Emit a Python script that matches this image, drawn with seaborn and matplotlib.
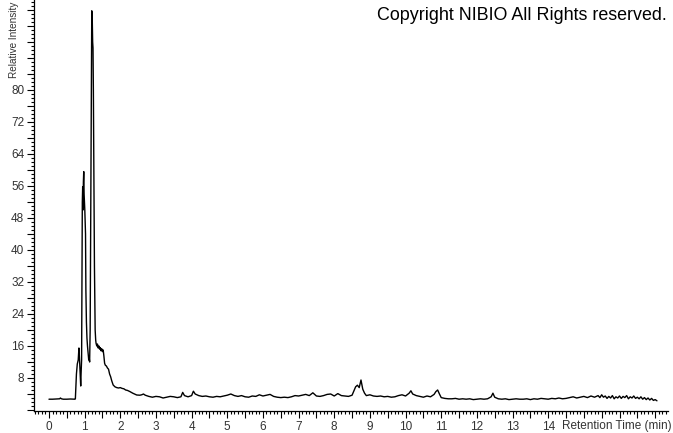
import matplotlib
matplotlib.use("Agg")
import matplotlib.pyplot as plt
import seaborn as sns
import pandas as pd
from matplotlib.ticker import MultipleLocator, FuncFormatter

# Retention time (min) and relative intensity, by segment
time_front = [0.0, 0.1, 0.2, 0.3, 0.32, 0.35, 0.4, 0.5, 0.6, 0.7, 0.73]
int_front = [2.7, 2.7, 2.75, 2.8, 3.0, 2.8, 2.7, 2.7, 2.75, 2.7, 2.7]

time_peaks = [0.74, 0.757, 0.77, 0.794, 0.82, 0.84, 0.85, 0.87, 0.89, 0.90, 0.915,
              0.925, 0.935, 0.945, 0.955, 0.965, 0.975, 0.985, 0.995, 1.005, 1.015,
              1.025, 1.035, 1.05, 1.065, 1.08, 1.10, 1.115, 1.125, 1.14, 1.155,
              1.17, 1.18, 1.19, 1.20, 1.215, 1.225, 1.235, 1.245, 1.255, 1.265,
              1.275, 1.285, 1.295]
int_peaks = [2.8, 6.0, 9.0, 11.5, 12.5, 15.5, 14.0, 10.0, 6.0, 9.0, 12.5,
             30.0, 52.0, 55.8, 50.0, 57.0, 59.6, 54.0, 52.0, 50.0, 47.0,
             44.0, 30.0, 22.0, 18.0, 16.0, 14.0, 12.5, 13.3, 12.0, 20.0,
             45.0, 64.0, 80.0, 99.8, 97.0, 92.0, 90.5, 80.0, 64.0, 50.0,
             36.0, 28.0, 20.0]

time_tail = [1.31, 1.32, 1.34, 1.36, 1.38, 1.40, 1.42, 1.44, 1.46, 1.48, 1.50,
             1.52, 1.54, 1.56, 1.58, 1.61, 1.64, 1.67, 1.70, 1.73, 1.76, 1.80,
             1.85, 1.90, 1.95, 2.0, 2.05, 2.1, 2.15, 2.2, 2.27, 2.35, 2.46, 2.55,
             2.6, 2.65, 2.7, 2.8, 2.9, 3.0, 3.1, 3.2, 3.3, 3.4, 3.5, 3.6, 3.7,
             3.75, 3.8, 3.9, 4.0, 4.05, 4.1]
int_tail = [17.5, 16.7, 16.0, 16.5, 15.5, 16.0, 15.2, 15.6, 14.8, 15.3, 14.6,
            15.0, 13.5, 11.7, 11.2, 11.0, 10.5, 10.2, 9.0, 8.3, 7.3, 6.25,
            5.8, 5.6, 5.5, 5.6, 5.4, 5.3, 5.0, 4.9, 4.6, 4.2, 3.75, 3.7,
            3.8, 4.0, 3.7, 3.4, 3.2, 3.4, 3.3, 3.0, 3.2, 3.4, 3.3, 3.1, 3.3,
            4.4, 3.6, 3.3, 3.6, 4.7, 4.0]

time_base = [
    4.2, 4.3, 4.4, 4.5, 4.6, 4.7, 4.8, 4.9, 5.0, 5.1, 5.2, 5.3, 5.4, 5.5, 5.6,
    5.7, 5.8, 5.9, 6.0, 6.1, 6.2, 6.3, 6.4, 6.5, 6.6, 6.7, 6.8, 6.9, 7.0, 7.1,
    7.2, 7.3, 7.4, 7.5, 7.6, 7.7, 7.8, 7.9, 8.0, 8.1, 8.2, 8.3, 8.4, 8.5, 8.6,
    8.65, 8.7, 8.75, 8.8, 8.85, 8.9, 9.0, 9.1, 9.2, 9.3, 9.4, 9.5, 9.6, 9.7, 9.8,
    9.9, 10.0, 10.1, 10.15, 10.2, 10.3, 10.4, 10.5, 10.6, 10.7, 10.8, 10.85, 10.9,
    10.95, 11.0, 11.1, 11.2, 11.3, 11.4, 11.5, 11.6, 11.7, 11.8, 11.9, 12.0, 12.1,
    12.2, 12.3, 12.4, 12.45, 12.5, 12.6, 12.7, 12.8, 12.9, 13.0, 13.1, 13.2, 13.3,
    13.4, 13.5, 13.6, 13.7, 13.8, 13.9, 14.0, 14.1, 14.2, 14.3, 14.4, 14.5, 14.6,
    14.7, 14.8, 14.9, 15.0, 15.1, 15.2, 15.3, 15.4, 15.45, 15.5, 15.55, 15.6, 15.65,
    15.7, 15.75, 15.8, 15.85, 15.9, 15.95, 16.0, 16.05, 16.1, 16.15, 16.2, 16.25,
    16.3, 16.35, 16.4, 16.45, 16.5, 16.55, 16.6, 16.65, 16.7, 16.75, 16.8, 16.85,
    16.9, 16.95, 17.0, 17.05,
]
int_base = [
    3.6, 3.4, 3.5, 3.3, 3.2, 3.4, 3.3, 3.5, 3.7, 4.0, 3.6, 3.4, 3.6, 3.3, 3.2,
    3.5, 3.4, 3.8, 3.5, 3.7, 3.9, 3.4, 3.2, 3.1, 3.2, 3.1, 3.3, 3.6, 3.5, 3.7,
    3.9, 3.6, 4.3, 3.5, 3.4, 3.6, 3.9, 4.0, 3.5, 4.1, 3.6, 3.5, 3.4, 3.7, 5.8,
    6.2, 5.6, 7.5, 5.2, 4.2, 3.6, 3.8, 3.5, 3.4, 3.5, 3.3, 3.4, 3.2, 3.3, 3.6,
    3.8, 3.5, 4.2, 4.8, 4.0, 3.6, 3.4, 3.2, 3.5, 3.3, 3.9, 4.6, 5.0,
    4.0, 3.1, 2.9, 2.8, 2.8, 2.9, 2.7, 2.8, 2.7, 2.8, 2.6, 2.7, 2.8,
    2.7, 2.8, 3.3, 4.2, 3.2, 2.8, 2.7, 2.8, 2.6, 2.7, 2.8, 2.7, 2.7,
    2.8, 2.6, 2.8, 2.7, 2.9, 2.8, 2.7, 2.9, 2.8, 3.0, 2.8, 2.9, 3.1,
    3.3, 3.0, 3.2, 3.4, 3.1, 3.5, 3.2, 3.6, 3.1, 3.8, 3.2, 3.5, 2.9,
    3.4, 3.0, 3.6, 2.8, 3.3, 3.0, 3.5, 2.9, 3.4, 3.1, 3.6, 2.8,
    3.3, 3.0, 3.5, 2.9, 3.2, 2.8, 3.3, 2.7, 3.1, 2.6, 3.0, 2.5,
    2.9, 2.4, 2.6, 2.3,
]

x_tick_labels = [str(i) for i in range(0, 15)]
y_tick_labels = [str(v) for v in range(8, 81, 8)]
x_title = "Retention Time (min)"
y_title = "Relative Intensity"
copyright_text = "Copyright NIBIO All Rights reserved."

df = pd.DataFrame({
    "time": time_front + time_peaks + time_tail + time_base,
    "intensity": int_front + int_peaks + int_tail + int_base,
})

sns.set_theme(style="white")
plt.rcParams["font.family"] = ["Liberation Sans", "DejaVu Sans"]

fig = plt.figure(figsize=(6.73, 4.33), dpi=100)
ax = fig.add_axes([34 / 673, 22 / 433, 634 / 673, 411 / 433])

sns.lineplot(data=df, x="time", y="intensity", ax=ax, color="black",
             linewidth=1.0, estimator=None, sort=False)

ax.set_xlim(-0.42, 17.36)
ax.set_ylim(-0.25, 102.5)

for s in ["top", "right"]:
    ax.spines[s].set_visible(False)
for s in ["left", "bottom"]:
    ax.spines[s].set_color("black")
    ax.spines[s].set_linewidth(0.9)

ax.xaxis.set_major_locator(MultipleLocator(0.5))
ax.xaxis.set_minor_locator(MultipleLocator(0.1))
ax.yaxis.set_major_locator(MultipleLocator(4))
ax.yaxis.set_minor_locator(MultipleLocator(1))

xl = set(x_tick_labels)
yl = set(y_tick_labels)

def fmt_x(v, pos):
    s = str(int(round(v))) if abs(v - round(v)) < 1e-6 else ""
    return s if s in xl else ""

def fmt_y(v, pos):
    s = str(int(round(v))) if abs(v - round(v)) < 1e-6 else ""
    return s if s in yl else ""

ax.xaxis.set_major_formatter(FuncFormatter(fmt_x))
ax.yaxis.set_major_formatter(FuncFormatter(fmt_y))

ax.tick_params(axis="both", which="major", direction="out", length=5, width=0.8,
               color="black", labelsize=8.5, labelcolor="#333333", pad=2)
ax.tick_params(axis="both", which="minor", direction="out", length=2.5, width=0.8,
               color="black")
ax.tick_params(axis="x", which="both", bottom=True)
ax.tick_params(axis="y", which="both", left=True)

ax.set_xlabel("")
ax.set_ylabel("")
ax.grid(False)

fig.text(14.5 / 673, 1 - 1.5 / 433, y_title, rotation=90, ha="center", va="top",
         fontsize=7.2, color="#333333")
fig.text(672 / 673, 1 - 426 / 433, x_title, ha="right", va="center",
         fontsize=8.5, color="#333333")
fig.text(667 / 673, 1 - 15 / 433, copyright_text, ha="right", va="center",
         fontsize=12.9, color="black")

fig.savefig("out.png", dpi=100, facecolor="white")
